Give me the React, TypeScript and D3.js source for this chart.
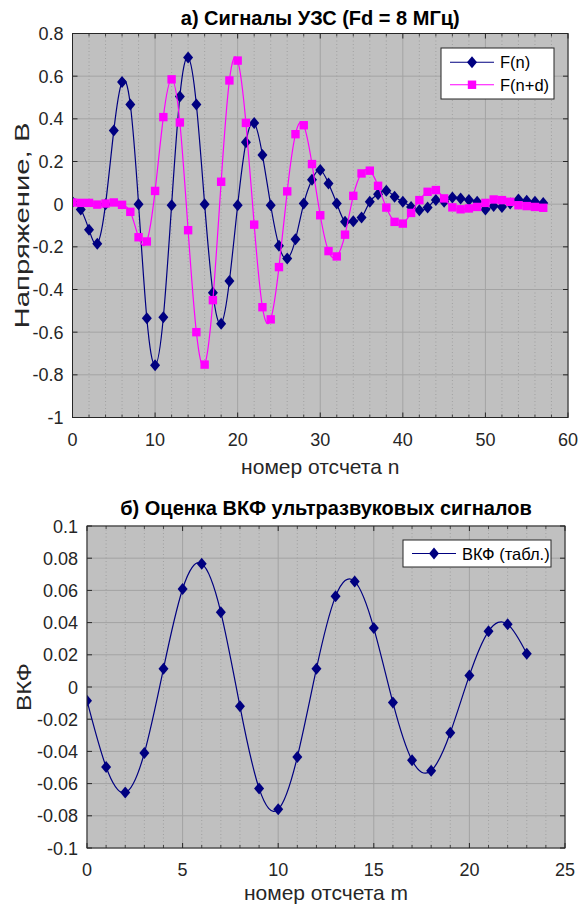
import React from 'react';
import * as d3 from 'd3';

// Signals F(n) and F(n+d), n = 0..57
const fN = [
  0.01, -0.025, -0.12, -0.185, 0, 0.345, 0.573, 0.467, 0, -0.535,
  -0.755, -0.53, -0.005, 0.505, 0.688, 0.467, 0, -0.415, -0.56, -0.36,
  -0.005, 0.29, 0.38, 0.23, -0.005, -0.195, -0.255, -0.165, 0.003, 0.115,
  0.16, 0.097, 0.003, -0.083, -0.08, -0.063, 0.011, 0.047, 0.063, 0.035,
  0.011, -0.013, -0.028, -0.016, 0.019, 0.011, 0.031, 0.027, 0.019, 0.011,
  -0.025, -0.009, -0.013, 0.003, 0.022, 0.016, 0.011, 0.006,
];
const fND = [
  0.008, 0.006, 0.006, -0.002, 0.003, 0.008, -0.003, -0.036, -0.155, -0.175,
  0.062, 0.408, 0.585, 0.383, -0.122, -0.6, -0.752, -0.45, 0.105, 0.58,
  0.673, 0.381, -0.096, -0.483, -0.54, -0.295, 0.06, 0.328, 0.37, 0.188,
  -0.052, -0.22, -0.245, -0.143, 0.039, 0.144, 0.157, 0.086, -0.016, -0.083,
  -0.091, -0.041, 0.019, 0.058, 0.066, 0.027, -0.015, -0.024, -0.02, -0.013,
  0.006, 0.022, 0.019, 0.011, -0.005, -0.009, -0.013, -0.017,
];
// Cross-correlation estimate, m = 0..23
const vkf = [
  -0.0085, -0.0497, -0.0656, -0.041, 0.0114, 0.0609, 0.0766, 0.0464, -0.012, -0.063,
  -0.076, -0.0435, 0.0114, 0.0563, 0.0656, 0.0366, -0.0097, -0.0455, -0.052, -0.0284,
  0.0072, 0.0346, 0.039, 0.0207,
];

const FONT = '"Liberation Sans", Arial, Helvetica, sans-serif';
const BLUE = '#000080';
const MAGENTA = '#ff00ff';
const PLOT_BG = '#c0c0c0';
const AXIS = '#262626';

type Series = { name: string; values: number[]; color: string; marker: 'diamond' | 'square' };

function Marker({ type, x, y, color }: { type: string; x: number; y: number; color: string }) {
  if (type === 'square') {
    const s = 4.2;
    return <rect x={x - s} y={y - s} width={s * 2} height={s * 2} fill={color} />;
  }
  const w = 5, h = 6;
  return <path d={`M${x},${y - h}L${x + w},${y}L${x},${y + h}L${x - w},${y}Z`} fill={color} />;
}

const fmt = (d: number) => String(+d.toFixed(3));

function Panel(props: {
  id: string;
  box: { left: number; right: number; top: number; bottom: number };
  xDomain: [number, number];
  yDomain: [number, number];
  xMajor: number;
  xMinor: number;
  yMajor: number;
  series: Series[];
  title: string;
  titleY: number;
  xLabel: string;
  xLabelY: number;
  yLabel: string;
  yLabelX: number;
  yLabelLen: number;
  legend: { x: number; y: number; w: number; rowH: number };
}) {
  const { id, box, series, legend } = props;
  const x = d3.scaleLinear().domain(props.xDomain).range([box.left, box.right]);
  const y = d3.scaleLinear().domain(props.yDomain).range([box.bottom, box.top]);
  const xTicks = x.ticks(props.xMajor);
  const xMinor = x.ticks(props.xMinor).filter(t => !xTicks.includes(t));
  const yTicks = y.ticks(props.yMajor);
  const line = d3.line<number>().x((_, i) => x(i)).y(d => y(d)).curve(d3.curveNatural);
  const cx = (box.left + box.right) / 2;
  const cy = (box.top + box.bottom) / 2;

  return (
    <g>
      <defs>
        <clipPath id={id}>
          <rect x={box.left} y={box.top} width={box.right - box.left} height={box.bottom - box.top} />
        </clipPath>
      </defs>
      <rect x={box.left} y={box.top} width={box.right - box.left} height={box.bottom - box.top} fill={PLOT_BG} />
      {xMinor.map(t => (
        <line key={'xm' + t} x1={x(t)} x2={x(t)} y1={box.top} y2={box.bottom}
          stroke="#989898" strokeWidth={0.8} strokeDasharray="1,2.5" />
      ))}
      {xTicks.map(t => (
        <line key={'xg' + t} x1={x(t)} x2={x(t)} y1={box.top} y2={box.bottom} stroke="#a3a3a3" strokeWidth={1} />
      ))}
      {yTicks.map(t => (
        <line key={'yg' + t} x1={box.left} x2={box.right} y1={y(t)} y2={y(t)} stroke="#a3a3a3" strokeWidth={1} />
      ))}

      {/* tick marks, inside on all sides */}
      {xTicks.map(t => (
        <g key={'xt' + t} stroke={AXIS} strokeWidth={1}>
          <line x1={x(t)} x2={x(t)} y1={box.bottom} y2={box.bottom - 5} />
          <line x1={x(t)} x2={x(t)} y1={box.top} y2={box.top + 5} />
        </g>
      ))}
      {xMinor.map(t => (
        <g key={'xmt' + t} stroke={AXIS} strokeWidth={0.8}>
          <line x1={x(t)} x2={x(t)} y1={box.bottom} y2={box.bottom - 3} />
          <line x1={x(t)} x2={x(t)} y1={box.top} y2={box.top + 3} />
        </g>
      ))}
      {yTicks.map(t => (
        <g key={'yt' + t} stroke={AXIS} strokeWidth={1}>
          <line x1={box.left} x2={box.left + 5} y1={y(t)} y2={y(t)} />
          <line x1={box.right} x2={box.right - 5} y1={y(t)} y2={y(t)} />
        </g>
      ))}

      <g clipPath={`url(#${id})`}>
        {series.map(s => (
          <g key={s.name}>
            <path d={line(s.values) || ''} fill="none" stroke={s.color} strokeWidth={1.2} />
            {s.values.map((v, i) => <Marker key={i} type={s.marker} x={x(i)} y={y(v)} color={s.color} />)}
          </g>
        ))}
      </g>

      <rect x={box.left} y={box.top} width={box.right - box.left} height={box.bottom - box.top}
        fill="none" stroke={AXIS} strokeWidth={1} />

      {xTicks.map(t => (
        <text key={'xl' + t} x={x(t)} y={box.bottom + 28} textAnchor="middle" fontSize={18} fill={AXIS}>{fmt(t)}</text>
      ))}
      {yTicks.map(t => (
        <text key={'yl' + t} x={box.left - 9} y={y(t) + 6.5} textAnchor="end" fontSize={18} fill={AXIS}>{fmt(t)}</text>
      ))}

      <text x={cx} y={props.titleY} textAnchor="middle" fontSize={20} fontWeight="bold" fill="#000">{props.title}</text>
      <text x={cx} y={props.xLabelY} textAnchor="middle" fontSize={21} fill={AXIS}>{props.xLabel}</text>
      <text transform={`translate(${props.yLabelX},${cy}) rotate(-90)`} textAnchor="middle" fontSize={21} fill={AXIS}
        textLength={props.yLabelLen} lengthAdjust="spacingAndGlyphs">
        {props.yLabel}
      </text>

      {/* legend */}
      <g>
        <rect x={legend.x} y={legend.y} width={legend.w} height={legend.rowH * series.length + 6}
          fill="#fff" stroke={AXIS} strokeWidth={1} />
        {series.map((s, i) => {
          const ly = legend.y + 3 + legend.rowH * (i + 0.5);
          return (
            <g key={'lg' + s.name}>
              <line x1={legend.x + 9} x2={legend.x + 53} y1={ly} y2={ly} stroke={s.color} strokeWidth={1.2} />
              <Marker type={s.marker} x={legend.x + 31} y={ly} color={s.color} />
              <text x={legend.x + 59} y={ly + 6} fontSize={16.5} fill="#000">{s.name}</text>
            </g>
          );
        })}
      </g>
    </g>
  );
}

export default function App() {
  return (
    <svg width={580} height={906} viewBox="0 0 580 906"
      style={{ position: 'absolute', left: 0, top: 0, background: '#fff', fontFamily: FONT }}>
      <Panel
        id="clipA"
        box={{ left: 72.5, right: 568, top: 33.5, bottom: 417.5 }}
        xDomain={[0, 60]} yDomain={[-1, 0.8]}
        xMajor={6} xMinor={30} yMajor={10}
        series={[
          { name: 'F(n)', values: fN, color: BLUE, marker: 'diamond' },
          { name: 'F(n+d)', values: fND, color: MAGENTA, marker: 'square' },
        ]}
        title="а) Сигналы УЗС (Fd = 8 МГц)" titleY={25}
        xLabel="номер отсчета n" xLabelY={474}
        yLabel="Напряжение, В" yLabelX={29} yLabelLen={206}
        legend={{ x: 441, y: 48, w: 113, rowH: 22.5 }}
      />
      <Panel
        id="clipB"
        box={{ left: 87, right: 565, top: 526, bottom: 848 }}
        xDomain={[0, 25]} yDomain={[-0.1, 0.1]}
        xMajor={5} xMinor={25} yMajor={10}
        series={[{ name: 'ВКФ (табл.)', values: vkf, color: BLUE, marker: 'diamond' }]}
        title="б) Оценка ВКФ ультразвуковых сигналов" titleY={515}
        xLabel="номер отсчета m" xLabelY={900}
        yLabel="ВКФ" yLabelX={31} yLabelLen={48}
        legend={{ x: 403, y: 540, w: 148, rowH: 21 }}
      />
    </svg>
  );
}
